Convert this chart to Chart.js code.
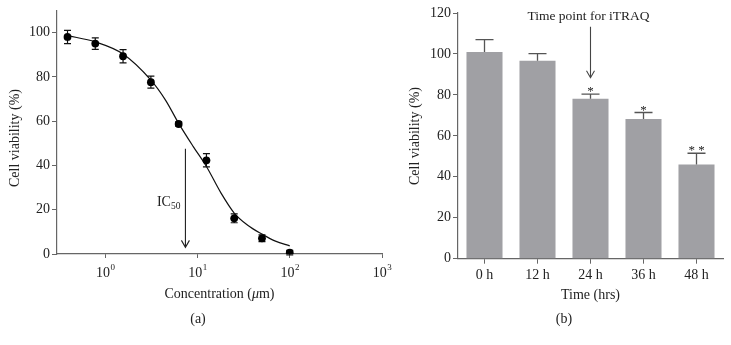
<!DOCTYPE html>
<html>
<head>
<meta charset="utf-8">
<script src="https://cdn.jsdelivr.net/npm/chart.js@4.4.1/dist/chart.umd.min.js"></script>
<style>
  html, body { margin: 0; padding: 0; background: #fff; }
  #wrap { position: relative; width: 731px; height: 345px; }
  #cvA { position: absolute; left: 0; top: 0; }
  #cvB { position: absolute; left: 370px; top: 0; }
</style>
</head>
<body>
<div id="wrap">
  <canvas id="cvA" width="400" height="345"></canvas>
  <canvas id="cvB" width="361" height="345"></canvas>
</div>
<script>
// panel (a): dose response
const concentrations = [0.39, 0.78, 1.56, 3.125, 6.25, 12.5, 25, 50, 100];
const viability = [98, 95, 89.3, 77.6, 58.7, 42.3, 16.1, 7.1, 0.6];
const viabilityErr = [3, 2.6, 3, 2.7, 1, 3, 2, 1.5, 1];
const fitConc = [0.39, 0.78, 1.56, 3.125, 4.5, 6.25, 9, 12.5, 18, 25, 35, 50, 70, 100];
const fitViability = [98.6, 95.8, 90.3, 78.5, 69.5, 59, 48.5, 39.5, 27.5, 18.5, 13, 9, 5.8, 3.7];
const ic50 = 7.4;
const logTicks = [1, 10, 100, 1000];
const logTickExp = ['0', '1', '2', '3'];
const pctTicksA = [0, 20, 40, 60, 80, 100];

// panel (b): time course
const timeLabels = ['0 h', '12 h', '24 h', '36 h', '48 h'];
const timeViability = [101, 96.7, 78.1, 68.2, 46];
const timeErr = [6, 3.5, 2.3, 3.2, 5.5];
const significance = ['', '', '*', '*', '* *'];
const iTRAQIndex = 2;

const SERIF = "'Liberation Serif', 'DejaVu Serif', serif";
Chart.defaults.font.family = SERIF;
Chart.defaults.font.size = 14;
Chart.defaults.color = '#222';

const AXIS = '#666';
const INK = '#222';

function arrowDown(ctx, x, y0, y1, color) {
  ctx.save();
  ctx.strokeStyle = color;
  ctx.lineWidth = 1.1;
  ctx.beginPath();
  ctx.moveTo(x, y0);
  ctx.lineTo(x, y1);
  ctx.moveTo(x - 4, y1 - 7);
  ctx.lineTo(x, y1);
  ctx.lineTo(x + 4, y1 - 7);
  ctx.stroke();
  ctx.restore();
}

function vText(ctx, text, x, y) {
  ctx.save();
  ctx.translate(x, y);
  ctx.rotate(-Math.PI / 2);
  ctx.textAlign = 'center';
  ctx.textBaseline = 'middle';
  ctx.fillText(text, 0, 0);
  ctx.restore();
}

const annotA = {
  id: 'annotA',
  beforeDatasetsDraw(chart) {
    const { ctx, scales: { x, y } } = chart;
    ctx.save();
    ctx.strokeStyle = '#111';
    ctx.lineWidth = 1.2;
    concentrations.forEach((c, i) => {
      const px = x.getPixelForValue(c);
      const top = y.getPixelForValue(viability[i] + viabilityErr[i]);
      const bot = y.getPixelForValue(viability[i] - viabilityErr[i]);
      ctx.beginPath();
      ctx.moveTo(px, top); ctx.lineTo(px, bot);
      ctx.moveTo(px - 3.5, top); ctx.lineTo(px + 3.5, top);
      ctx.moveTo(px - 3.5, bot); ctx.lineTo(px + 3.5, bot);
      ctx.stroke();
    });
    ctx.restore();
  },
  afterDraw(chart) {
    const { ctx, scales: { x, y } } = chart;
    ctx.save();
    ctx.fillStyle = INK;

    // log tick labels: base 10 with raised exponent
    ctx.textBaseline = 'alphabetic';
    ctx.textAlign = 'left';
    logTicks.forEach((v, i) => {
      const px = x.getPixelForValue(v);
      ctx.font = '14px ' + SERIF;
      const wb = ctx.measureText('10').width;
      ctx.font = '9px ' + SERIF;
      const we = ctx.measureText(logTickExp[i]).width;
      const sx = px - (wb + we) / 2;
      ctx.font = '14px ' + SERIF;
      ctx.fillText('10', sx, 277);
      ctx.font = '9px ' + SERIF;
      ctx.fillText(logTickExp[i], sx + wb + 0.5, 270);
    });

    ctx.font = '14px ' + SERIF;
    vText(ctx, 'Cell viability (%)', 15, 138);

    // x title with italic mu
    const a = 'Concentration (', b = 'μ', c = 'm)';
    ctx.font = '14px ' + SERIF;
    const wa = ctx.measureText(a).width, wc = ctx.measureText(c).width;
    ctx.font = 'italic 14px ' + SERIF;
    const wb = ctx.measureText(b).width;
    let sx = (x.left + x.right) / 2 - (wa + wb + wc) / 2;
    ctx.textBaseline = 'middle';
    ctx.textAlign = 'left';
    ctx.font = '14px ' + SERIF;
    ctx.fillText(a, sx, 294);
    ctx.font = 'italic 14px ' + SERIF;
    ctx.fillText(b, sx + wa, 294);
    ctx.font = '14px ' + SERIF;
    ctx.fillText(c, sx + wa + wb, 294);

    ctx.textAlign = 'center';
    ctx.fillText('(a)', 198, 319);

    // IC50 arrow
    const ax = x.getPixelForValue(ic50);
    arrowDown(ctx, ax, y.getPixelForValue(47.5), y.getPixelForValue(3), INK);
    ctx.textBaseline = 'alphabetic';
    ctx.textAlign = 'left';
    ctx.font = '9.5px ' + SERIF;
    const wsub = ctx.measureText('50').width;
    ctx.font = '14px ' + SERIF;
    const wic = ctx.measureText('IC').width;
    const by = y.getPixelForValue(21.8);
    const tx = ax - 5 - wsub - wic;
    ctx.fillText('IC', tx, by);
    ctx.font = '9.5px ' + SERIF;
    ctx.fillText('50', tx + wic, by + 3);
    ctx.restore();
  }
};

new Chart(document.getElementById('cvA'), {
  type: 'scatter',
  data: {
    datasets: [
      {
        data: fitConc.map((c, i) => ({ x: c, y: fitViability[i] })),
        showLine: true,
        borderColor: '#111',
        borderWidth: 1.2,
        pointRadius: 0,
        cubicInterpolationMode: 'monotone',
        order: 2
      },
      {
        data: concentrations.map((c, i) => ({ x: c, y: viability[i] })),
        pointRadius: 3.9,
        backgroundColor: '#000',
        borderColor: '#000',
        borderWidth: 0,
        order: 1
      }
    ]
  },
  options: {
    responsive: false,
    animation: false,
    layout: { padding: { top: 10, right: 18, left: 0, bottom: 0 } },
    plugins: { legend: { display: false }, tooltip: { enabled: false } },
    scales: {
      x: {
        type: 'logarithmic',
        min: 0.316,
        max: 1000,
        afterBuildTicks: s => { s.ticks = logTicks.map(v => ({ value: v })); },
        afterFit: s => { s.height = 91; },
        ticks: { display: false, autoSkip: false },
        grid: { drawOnChartArea: false, tickLength: 4, color: AXIS },
        border: { color: AXIS, width: 1.2 }
      },
      y: {
        min: 0,
        max: 110,
        afterBuildTicks: s => { s.ticks = pctTicksA.map(v => ({ value: v })); },
        afterFit: s => { s.width = 57; },
        ticks: { padding: 2, color: INK },
        grid: { drawOnChartArea: false, tickLength: 5, color: AXIS },
        border: { color: AXIS, width: 1.2 }
      }
    }
  },
  plugins: [annotA]
});

const annotB = {
  id: 'annotB',
  afterDatasetsDraw(chart) {
    const { ctx, scales: { x, y } } = chart;
    ctx.save();
    ctx.strokeStyle = '#555';
    ctx.lineWidth = 1.3;
    ctx.fillStyle = INK;
    ctx.font = '13px ' + SERIF;
    ctx.textAlign = 'center';
    ctx.textBaseline = 'alphabetic';
    timeViability.forEach((v, i) => {
      const px = x.getPixelForValue(i);
      const base = y.getPixelForValue(v);
      const top = y.getPixelForValue(v + timeErr[i]);
      ctx.beginPath();
      ctx.moveTo(px, base); ctx.lineTo(px, top);
      ctx.moveTo(px - 9, top); ctx.lineTo(px + 9, top);
      ctx.stroke();
      if (significance[i]) ctx.fillText(significance[i], px, top + 1);
    });
    ctx.restore();
  },
  afterDraw(chart) {
    const { ctx, scales: { x, y } } = chart;
    ctx.save();
    ctx.fillStyle = INK;
    ctx.font = '14px ' + SERIF;
    vText(ctx, 'Cell viability (%)', 45, 136);
    ctx.textAlign = 'center';
    ctx.textBaseline = 'middle';
    ctx.fillText('Time (hrs)', (x.left + x.right) / 2, 295);
    ctx.fillText('(b)', 194, 319);
    ctx.font = '13.5px ' + SERIF;
    const ax = x.getPixelForValue(iTRAQIndex);
    ctx.fillText('Time point for iTRAQ', ax - 2, y.getPixelForValue(118.2));
    arrowDown(ctx, ax, y.getPixelForValue(113.3), y.getPixelForValue(88.4), '#444');
    ctx.restore();
  }
};

new Chart(document.getElementById('cvB'), {
  type: 'bar',
  data: {
    labels: timeLabels,
    datasets: [{
      data: timeViability,
      backgroundColor: '#a0a0a4',
      barPercentage: 0.68,
      categoryPercentage: 1
    }]
  },
  options: {
    responsive: false,
    animation: false,
    layout: { padding: { top: 13, right: 8, left: 0, bottom: 0 } },
    plugins: { legend: { display: false }, tooltip: { enabled: false } },
    scales: {
      x: {
        afterFit: s => { s.height = 86.3; },
        ticks: { padding: 3, color: INK },
        grid: { drawOnChartArea: false, offset: false, tickLength: 5, color: AXIS },
        border: { color: AXIS, width: 1.2 }
      },
      y: {
        min: 0,
        max: 120,
        afterFit: s => { s.width = 88; },
        ticks: { stepSize: 20, padding: 2, color: INK },
        grid: { drawOnChartArea: false, tickLength: 5, color: AXIS },
        border: { color: AXIS, width: 1.2 }
      }
    }
  },
  plugins: [annotB]
});
</script>
</body>
</html>
